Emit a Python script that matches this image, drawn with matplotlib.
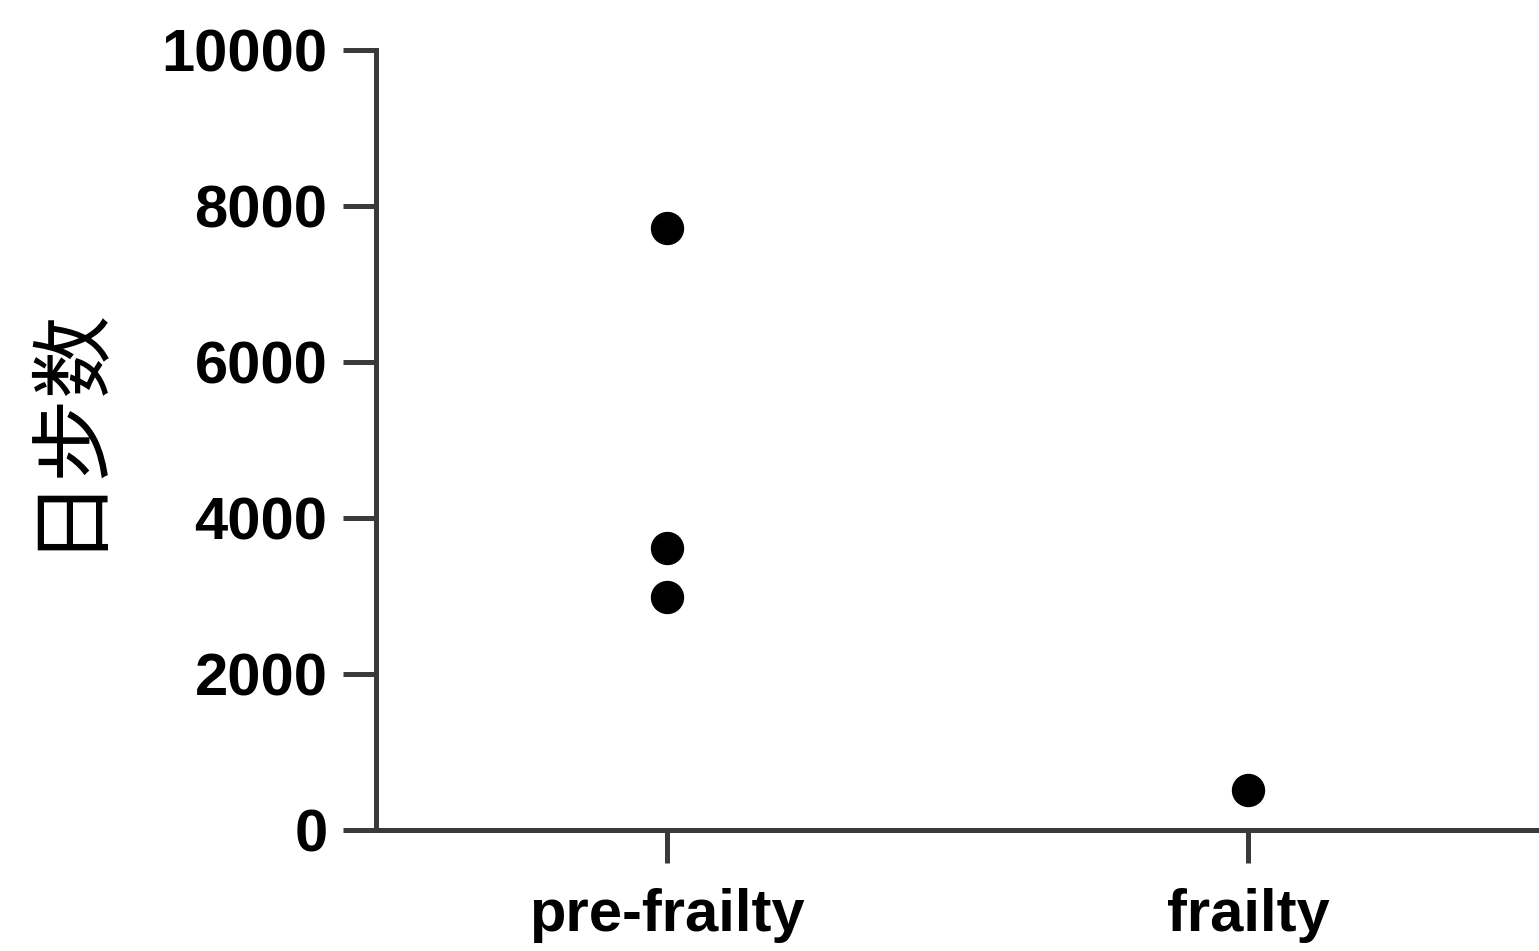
import matplotlib.pyplot as plt
import numpy as np

groups = ["pre-frailty", "frailty"]
pre_frailty_steps = [7720, 3620, 2990]
frailty_steps = [510]
yticks = [0, 2000, 4000, 6000, 8000, 10000]

fig = plt.figure(figsize=(15.39, 9.51), dpi=100)
ax = fig.add_axes([376 / 1539, 1 - 830 / 951, 1 - 376 / 1539, 780 / 951])

for i, vals in enumerate([pre_frailty_steps, frailty_steps]):
    ax.plot([i] * len(vals), vals, "o", color="black", markersize=23, clip_on=False)

ax.set_xlim(-0.5, 1.5)
ax.set_ylim(0, 10000)
ax.set_xticks(range(len(groups)))
ax.set_xticklabels(groups)
ax.set_yticks(yticks)
ax.set_yticklabels([str(t) for t in yticks])

spine_color = "#3a3a3a"
for side in ["top", "right"]:
    ax.spines[side].set_visible(False)
for side in ["left", "bottom"]:
    ax.spines[side].set_linewidth(3.6)
    ax.spines[side].set_color(spine_color)

ax.tick_params(axis="both", length=24, width=3.6, color=spine_color)
ax.tick_params(axis="y", pad=11)
ax.tick_params(axis="x", pad=18)
for lab in ax.get_xticklabels() + ax.get_yticklabels():
    lab.set_fontfamily("Liberation Sans")
    lab.set_fontweight("bold")
    lab.set_fontsize(43)

# y axis title
fig.text(63 / 1539, 1 - 425 / 951, "日步数", rotation=90, ha="center", va="center",
         family=["Noto Sans CJK SC", "DejaVu Sans"], fontsize=60, fontweight="light")

fig.savefig("out.png", dpi=100)
